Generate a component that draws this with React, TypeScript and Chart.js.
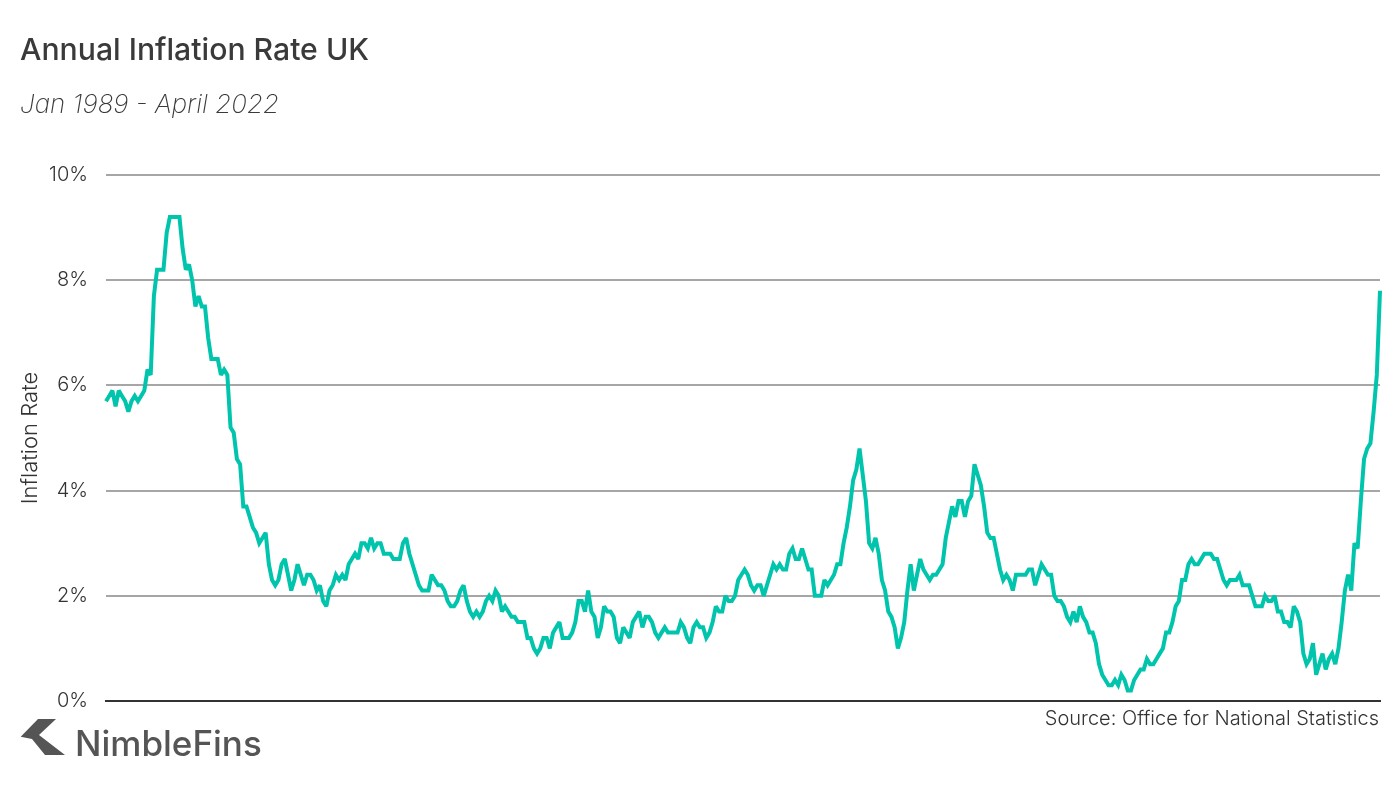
import React, { useEffect, useRef } from 'react';
import Chart from 'chart.js/auto';

const FONT = 'Inter, "Open Sans", sans-serif';

const startYear = 1989;
const monthNames = ['Jan', 'Feb', 'Mar', 'Apr', 'May', 'Jun', 'Jul', 'Aug', 'Sep', 'Oct', 'Nov', 'Dec'];
const yTicks = [0, 2, 4, 6, 8, 10];

// monthly annual rate, one row per 12 months from Jan 1989
const inflation = [
  5.7, 5.8, 5.9, 5.6, 5.9, 5.8, 5.7, 5.5, 5.7, 5.8, 5.7, 5.8,
  5.9, 6.3, 6.2, 7.7, 8.2, 8.2, 8.2, 8.9, 9.2, 9.2, 9.2, 9.2,
  8.6, 8.2, 8.3, 8.0, 7.5, 7.7, 7.5, 7.5, 6.9, 6.5, 6.5, 6.5,
  6.2, 6.3, 6.2, 5.2, 5.1, 4.6, 4.5, 3.7, 3.7, 3.5, 3.3, 3.2,
  3.0, 3.1, 3.2, 2.6, 2.3, 2.2, 2.3, 2.6, 2.7, 2.4, 2.1, 2.3,
  2.6, 2.4, 2.2, 2.4, 2.4, 2.3, 2.1, 2.2, 1.9, 1.8, 2.1, 2.2,
  2.4, 2.3, 2.4, 2.3, 2.6, 2.7, 2.8, 2.7, 3.0, 3.0, 2.9, 3.1,
  2.9, 3.0, 3.0, 2.8, 2.8, 2.8, 2.7, 2.7, 2.7, 3.0, 3.1, 2.8,
  2.6, 2.4, 2.2, 2.1, 2.1, 2.1, 2.4, 2.3, 2.2, 2.2, 2.1, 1.9,
  1.8, 1.8, 1.9, 2.1, 2.2, 1.9, 1.7, 1.6, 1.7, 1.6, 1.7, 1.9,
  2.0, 1.9, 2.1, 2.0, 1.7, 1.8, 1.7, 1.6, 1.6, 1.5, 1.5, 1.5,
  1.2, 1.2, 1.0, 0.9, 1.0, 1.2, 1.2, 1.0, 1.3, 1.4, 1.5, 1.2,
  1.2, 1.2, 1.3, 1.5, 1.9, 1.9, 1.7, 2.1, 1.7, 1.6, 1.2, 1.4,
  1.8, 1.7, 1.7, 1.6, 1.2, 1.1, 1.4, 1.3, 1.2, 1.5, 1.6, 1.7,
  1.4, 1.6, 1.6, 1.5, 1.3, 1.2, 1.3, 1.4, 1.3, 1.3, 1.3, 1.3,
  1.5, 1.4, 1.2, 1.1, 1.4, 1.5, 1.4, 1.4, 1.2, 1.3, 1.5, 1.8,
  1.7, 1.7, 2.0, 1.9, 1.9, 2.0, 2.3, 2.4, 2.5, 2.4, 2.2, 2.1,
  2.2, 2.2, 2.0, 2.2, 2.4, 2.6, 2.5, 2.6, 2.5, 2.5, 2.8, 2.9,
  2.7, 2.7, 2.9, 2.7, 2.5, 2.5, 2.0, 2.0, 2.0, 2.3, 2.2, 2.3,
  2.4, 2.6, 2.6, 3.0, 3.3, 3.7, 4.2, 4.4, 4.8, 4.3, 3.8, 3.0,
  2.9, 3.1, 2.8, 2.3, 2.1, 1.7, 1.6, 1.4, 1.0, 1.2, 1.5, 2.1,
  2.6, 2.1, 2.4, 2.7, 2.5, 2.4, 2.3, 2.4, 2.4, 2.5, 2.6, 3.1,
  3.4, 3.7, 3.5, 3.8, 3.8, 3.5, 3.8, 3.9, 4.5, 4.3, 4.1, 3.7,
  3.2, 3.1, 3.1, 2.8, 2.5, 2.3, 2.4, 2.3, 2.1, 2.4, 2.4, 2.4,
  2.4, 2.5, 2.5, 2.2, 2.4, 2.6, 2.5, 2.4, 2.4, 2.0, 1.9, 1.9,
  1.8, 1.6, 1.5, 1.7, 1.5, 1.8, 1.6, 1.5, 1.3, 1.3, 1.1, 0.7,
  0.5, 0.4, 0.3, 0.3, 0.4, 0.3, 0.5, 0.4, 0.2, 0.2, 0.4, 0.5,
  0.6, 0.6, 0.8, 0.7, 0.7, 0.8, 0.9, 1.0, 1.3, 1.3, 1.5, 1.8,
  1.9, 2.3, 2.3, 2.6, 2.7, 2.6, 2.6, 2.7, 2.8, 2.8, 2.8, 2.7,
  2.7, 2.5, 2.3, 2.2, 2.3, 2.3, 2.3, 2.4, 2.2, 2.2, 2.2, 2.0,
  1.8, 1.8, 1.8, 2.0, 1.9, 1.9, 2.0, 1.7, 1.7, 1.5, 1.5, 1.4,
  1.8, 1.7, 1.5, 0.9, 0.7, 0.8, 1.1, 0.5, 0.7, 0.9, 0.6, 0.8,
  0.9, 0.7, 1.0, 1.5, 2.1, 2.4, 2.1, 3.0, 2.9, 3.8, 4.6, 4.8,
  4.9, 5.5, 6.2, 7.8,
];

const months = inflation.map((_, i) => `${monthNames[i % 12]} ${startYear + Math.floor(i / 12)}`);

const App: React.FC = () => {
  const chartRef = useRef<HTMLCanvasElement>(null);

  useEffect(() => {
    document.body.style.margin = '0';
    if (!chartRef.current) return;

    const chart = new Chart(chartRef.current, {
      type: 'line',
      data: {
        labels: months,
        datasets: [
          {
            label: 'Inflation Rate',
            data: inflation,
            borderColor: '#00c4ac',
            borderWidth: 4,
            borderJoinStyle: 'miter',
            pointRadius: 0,
            tension: 0,
            fill: false,
          },
        ],
      },
      // keep the steep peaks from spiking past their value
      plugins: [
        {
          id: 'miterLimit',
          beforeDatasetsDraw: (c) => {
            c.ctx.miterLimit = 2.5;
          },
        },
      ],
      options: {
        responsive: false,
        animation: false,
        layout: { padding: { top: 175, right: 20, bottom: 77, left: 0 } },
        plugins: {
          legend: { display: false },
          tooltip: { enabled: false },
        },
        scales: {
          x: {
            ticks: { display: false },
            grid: { display: false },
            border: { color: '#333333', width: 2 },
          },
          y: {
            min: 0,
            max: 10,
            afterFit: (scale) => {
              scale.width = 106;
            },
            afterBuildTicks: (scale) => {
              scale.ticks = yTicks.map((value) => ({ value }));
            },
            ticks: {
              color: '#333333',
              padding: 18,
              font: { family: FONT, size: 20, weight: 300 },
              callback: (value) => `${value}%`,
            },
            grid: { color: '#a6a6a6', lineWidth: 2, drawTicks: false },
            border: { display: false },
            title: {
              display: true,
              text: 'Inflation Rate',
              color: '#333333',
              padding: { top: 17, bottom: 0 },
              font: { family: FONT, size: 22, weight: 300 },
            },
          },
        },
      },
    });

    return () => {
      chart.destroy();
    };
  }, []);

  return (
    <div style={{ position: 'relative', width: 1400, height: 786, background: '#fff', fontFamily: FONT, overflow: 'hidden' }}>
      <canvas ref={chartRef} width={1400} height={786} style={{ display: 'block' }}></canvas>
      <div style={{ position: 'absolute', left: 20, top: 31, fontSize: 30.2, fontWeight: 500, color: '#3a3a3a', whiteSpace: 'nowrap' }}>
        Annual Inflation Rate UK
      </div>
      <div style={{ position: 'absolute', left: 20, top: 88, fontSize: 26, fontWeight: 200, fontStyle: 'italic', color: '#3a3a3a', whiteSpace: 'nowrap' }}>
        Jan 1989 - April 2022
      </div>
      <div style={{ position: 'absolute', right: 21, top: 706, fontSize: 20, fontWeight: 300, color: '#333333', whiteSpace: 'nowrap' }}>
        Source: Office for National Statistics
      </div>
      <svg style={{ position: 'absolute', left: 20, top: 719 }} width={46} height={38} viewBox="0 0 46 38">
        <polygon points="0.7,17.7 18,0 36,0 19,16 45,36 25,36 12,20" fill="#555555" />
      </svg>
      <div style={{ position: 'absolute', left: 75, top: 722, fontSize: 35, fontWeight: 500, color: '#555555', whiteSpace: 'nowrap' }}>
        NimbleFins
      </div>
    </div>
  );
};

export default App;
